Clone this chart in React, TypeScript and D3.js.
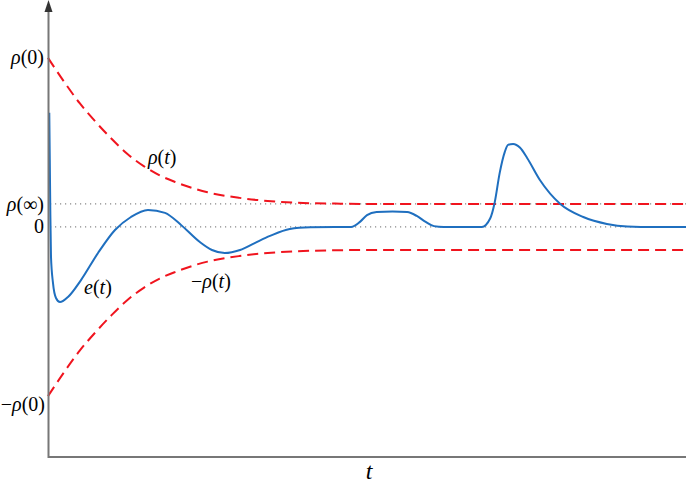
import React from "react";
import * as d3 from "d3";

const W = 686;
const H = 485;

// Envelope rho(t)
const rhoT = [0, 0.25, 0.5, 0.75, 1, 1.25, 1.5, 1.75, 2, 2.5, 3, 3.5, 4, 4.5, 5, 6, 7, 8, 9, 10];
const rhoV = [1.0, 0.86, 0.73, 0.62, 0.52, 0.43, 0.36, 0.305, 0.265, 0.205, 0.172, 0.152, 0.142, 0.138, 0.136, 0.136, 0.136, 0.136, 0.136, 0.136];
const rhoInf = 0.136;

// Error e(t)
const eT = [0.02, 0.028, 0.036, 0.047, 0.078, 0.125, 0.188, 0.313, 0.517, 0.784, 1.05, 1.30, 1.567, 1.834, 2.085, 2.38, 2.57, 2.77, 3.01, 3.24, 3.48, 3.79, 4.11, 4.5, 4.75, 4.89, 5.0, 5.15, 5.4, 5.63, 5.78, 5.92, 6.05, 6.2, 6.8, 6.93, 7.0, 7.08, 7.16, 7.21, 7.29, 7.40, 7.51, 7.71, 8.03, 8.39, 8.76, 9.08, 9.5, 10];
const eV = [0.675, 0.396, 0.1, -0.178, -0.331, -0.42, -0.444, -0.414, -0.314, -0.154, -0.018, 0.059, 0.101, 0.083, 0.012, -0.089, -0.136, -0.154, -0.136, -0.095, -0.053, -0.012, -0.002, 0.0, 0.0, 0.03, 0.07, 0.088, 0.092, 0.088, 0.065, 0.03, 0.005, 0.0, 0.0, 0.05, 0.142, 0.320, 0.444, 0.485, 0.491, 0.468, 0.408, 0.278, 0.136, 0.059, 0.018, 0.003, 0.0, 0.0];

const xDomain = [0, 10];
const yDomain = [-1.36, 1.33];

export default function App() {
  const x = d3.scaleLinear().domain(xDomain).range([48, 686]);
  const y = d3.scaleLinear().domain(yDomain).range([457, 2]);

  const line = d3
    .line<[number, number]>()
    .x((d) => x(d[0]))
    .y((d) => y(d[1]))
    .curve(d3.curveMonotoneX);

  const up = rhoT.map((t, i) => [t, rhoV[i]] as [number, number]);
  const lo = rhoT.map((t, i) => [t, -rhoV[i]] as [number, number]);
  const err = eT.map((t, i) => [t, eV[i]] as [number, number]);

  const red = "#f0141e";
  const blue = "#1f6fbf";
  const axisC = "#777777";
  const font = "'Liberation Serif', 'Times New Roman', 'DejaVu Serif', serif";

  return (
    <svg
      width={W}
      height={H}
      style={{ position: "absolute", left: 0, top: 0, background: "#fff", fontFamily: font }}
    >
      {/* dotted reference lines */}
      <line x1={x(0) + 2} x2={686} y1={y(rhoInf)} y2={y(rhoInf)} stroke="#888" strokeWidth={1.2} strokeDasharray="1.2,3.8" />
      <line x1={x(0) + 2} x2={686} y1={y(0)} y2={y(0)} stroke="#888" strokeWidth={1.2} strokeDasharray="1.2,3.8" />

      {/* envelopes */}
      <path d={line(up) || ""} fill="none" stroke={red} strokeWidth={2} strokeDasharray="11,6" />
      <path d={line(lo) || ""} fill="none" stroke={red} strokeWidth={2} strokeDasharray="11,6" />

      {/* error */}
      <path d={line(err) || ""} fill="none" stroke={blue} strokeWidth={2} />

      {/* axes */}
      <line x1={48.5} x2={48.5} y1={8} y2={458} stroke={axisC} strokeWidth={2} />
      <line x1={48} x2={686} y1={457} y2={457} stroke={axisC} strokeWidth={2} />
      <path d="M44.5,12 L48.5,0 L52.5,12 Z" fill="#333" />

      {/* y labels */}
      <text x={44} y={64} fontSize={20} textAnchor="end">
        <tspan fontStyle="italic">ρ</tspan>(0)
      </text>
      <text x={44} y={211} fontSize={20} textAnchor="end">
        <tspan fontStyle="italic">ρ</tspan>(∞)
      </text>
      <text x={44} y={233} fontSize={20} textAnchor="end">0</text>
      <text x={45} y={411} fontSize={20} textAnchor="end">
        −<tspan fontStyle="italic">ρ</tspan>(0)
      </text>

      {/* curve labels */}
      <text x={148} y={164} fontSize={20}>
        <tspan fontStyle="italic">ρ</tspan>(<tspan fontStyle="italic">t</tspan>)
      </text>
      <text x={84} y={294} fontSize={20}>
        <tspan fontStyle="italic">e</tspan>(<tspan fontStyle="italic">t</tspan>)
      </text>
      <text x={191} y={288} fontSize={20}>
        −<tspan fontStyle="italic">ρ</tspan>(<tspan fontStyle="italic">t</tspan>)
      </text>

      {/* x label */}
      <text x={369} y={479} fontSize={24} fontStyle="italic" textAnchor="middle">t</text>
    </svg>
  );
}
